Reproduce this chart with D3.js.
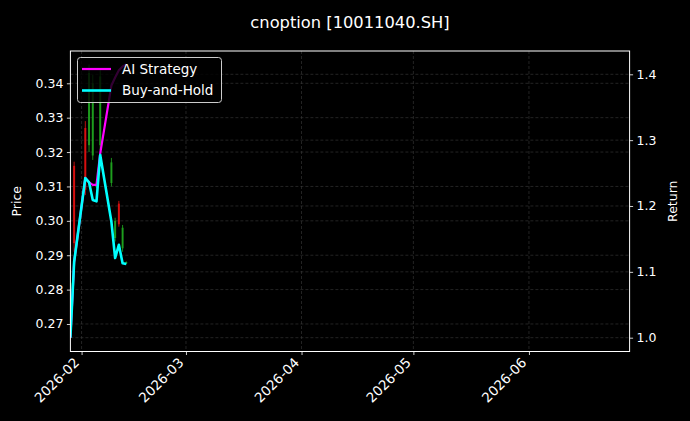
<!DOCTYPE html>
<html><head><meta charset="utf-8">
<script src="https://cdn.jsdelivr.net/npm/d3@7"></script>
<style>html,body{margin:0;padding:0;background:#000;}svg{display:block;font-family:"DejaVu Sans",sans-serif;}</style>
</head><body>
<svg id="c" width="690" height="421"></svg>
<script>
const title = "cnoption [10011040.SH]";
const dates = ["2026-01-29","2026-01-30","2026-02-02","2026-02-03","2026-02-04","2026-02-05","2026-02-06","2026-02-09","2026-02-10","2026-02-11","2026-02-12","2026-02-13"];
const opens  = [0.267, 0.316, 0.327, 0.322, 0.319, 0.3098, 0.322, 0.311, 0.295, 0.305, 0.292, 0.2876];
const highs  = [0.285, 0.3172, 0.329, 0.3455, 0.3424, 0.3105, 0.344, 0.3183, 0.3009, 0.3058, 0.2988, 0.2882];
const lows   = [0.266, 0.291, 0.3075, 0.320, 0.3177, 0.3095, 0.3206, 0.310, 0.294, 0.2983, 0.291, 0.2875];
const closes = [0.282, 0.2935, 0.309, 0.343, 0.340, 0.3102, 0.342, 0.317, 0.300, 0.299, 0.298, 0.2880];
const aiReturn = [1.0, 1.115, 1.2425, 1.236, 1.232, 1.232, 1.280, 1.383, 1.395, 1.406, 1.412, 1.415];
const bhReturn = [1.0, 1.115, 1.2425, 1.236, 1.209, 1.207, 1.2775, 1.176, 1.121, 1.141, 1.113, 1.112];
const priceTicks = [0.27, 0.28, 0.29, 0.30, 0.31, 0.32, 0.33, 0.34];
const returnTicks = [1.0, 1.1, 1.2, 1.3, 1.4];
const monthTicks = ["2026-02-01","2026-03-01","2026-04-01","2026-05-01","2026-06-01"];
const xRange = ["2026-01-29","2026-06-28"];
const seriesNames = ["AI Strategy", "Buy-and-Hold"];

const parse = d3.utcParse("%Y-%m-%d");
const L = 70.4, R = 629.6, T = 51, B = 351.5;
const svg = d3.select("#c");
svg.append("rect").attr("width",690).attr("height",421).attr("fill","#000");

const x = d3.scaleUtc().domain(xRange.map(parse)).range([L, R]);
const yP = d3.scaleLinear().domain([0.26200, 0.34939]).range([B, T]);
const yR = d3.scaleLinear().domain([0.97904, 1.43538]).range([B, T]);

const data = dates.map((d,i)=>({d:parse(d),o:opens[i],h:highs[i],l:lows[i],c:closes[i],ai:aiReturn[i],bh:bhReturn[i]}));

svg.append("defs").append("clipPath").attr("id","clip").append("rect")
  .attr("x",L).attr("y",T).attr("width",R-L).attr("height",B-T);

// grid
const grid = svg.append("g").attr("stroke","#555").attr("stroke-width",0.6).attr("stroke-dasharray","3,2").attr("opacity",0.7);
priceTicks.forEach(v=>grid.append("line").attr("x1",L).attr("x2",R).attr("y1",yP(v)).attr("y2",yP(v)));
returnTicks.forEach(v=>grid.append("line").attr("x1",L).attr("x2",R).attr("y1",yR(v)).attr("y2",yR(v)));
monthTicks.forEach(v=>grid.append("line").attr("y1",T).attr("y2",B).attr("x1",x(parse(v))).attr("x2",x(parse(v))));

const plot = svg.append("g").attr("clip-path","url(#clip)");
// candles
const cg = plot.append("g");
data.forEach(d=>{
  const col = d.c >= d.o ? "#1fa31f" : "#e01010";
  cg.append("line").attr("x1",x(d.d)).attr("x2",x(d.d)).attr("y1",yP(d.h)).attr("y2",yP(d.l))
    .attr("stroke",col).attr("stroke-width",1).attr("opacity",0.85);
  cg.append("line").attr("x1",x(d.d)).attr("x2",x(d.d)).attr("y1",yP(Math.max(d.o,d.c))).attr("y2",yP(Math.min(d.o,d.c)))
    .attr("stroke",col).attr("stroke-width",2).attr("opacity",0.9);
});
// lines
const lineAI = d3.line().x(d=>x(d.d)).y(d=>yR(d.ai));
const lineBH = d3.line().x(d=>x(d.d)).y(d=>yR(d.bh));
plot.append("path").datum(data).attr("d",lineAI).attr("fill","none").attr("stroke","#ff00ff").attr("stroke-width",2.2).attr("stroke-linejoin","round");
plot.append("path").datum(data).attr("d",lineBH).attr("fill","none").attr("stroke","#00ffff").attr("stroke-width",2.6).attr("stroke-linejoin","round");

// axes
const axL = d3.axisLeft(yP).tickValues(priceTicks).tickFormat(d3.format(".2f")).tickSize(3.5).tickPadding(3.5);
const axR = d3.axisRight(yR).tickValues(returnTicks).tickFormat(d3.format(".1f")).tickSize(3.5).tickPadding(3.5);
const axB = d3.axisBottom(x).tickValues(monthTicks.map(parse)).tickFormat(d3.utcFormat("%Y-%m")).tickSize(3.5).tickPadding(3.5);
function style(g){
  g.select(".domain").remove();
  g.selectAll(".tick line").attr("stroke","#fff").attr("stroke-width",0.8);
  g.selectAll(".tick text").attr("fill","#fff").style("font-size","12.5px").style("font-family","DejaVu Sans");
}
svg.append("g").attr("transform",`translate(${L},0)`).call(axL).call(style);
svg.append("g").attr("transform",`translate(${R},0)`).call(axR).call(style);
const gb = svg.append("g").attr("transform",`translate(0,${B})`).call(axB).call(style);
gb.selectAll(".tick text").style("font-size","13.5px").attr("text-anchor","end").attr("dy",null).attr("y",0)
  .attr("transform","translate(-2,12) rotate(-45)");

// spines
svg.append("rect").attr("x",L).attr("y",T).attr("width",R-L).attr("height",B-T).attr("fill","none").attr("stroke","#fff").attr("stroke-width",1);

// labels
svg.append("text").attr("x",(L+R)/2).attr("y",28).attr("text-anchor","middle").attr("fill","#fff").style("font-size","16.3px").text(title);
svg.append("text").attr("transform",`translate(21,${(T+B)/2}) rotate(-90)`).attr("text-anchor","middle").attr("fill","#fff").style("font-size","12.5px").text("Price");
svg.append("text").attr("transform",`translate(677,${(T+B)/2}) rotate(-90)`).attr("text-anchor","middle").attr("fill","#fff").style("font-size","12.5px").text("Return");

// legend
const lg = svg.append("g");
lg.append("rect").attr("x",77.5).attr("y",57.5).attr("width",144).attr("height",45).attr("rx",3)
  .attr("fill","#000").attr("fill-opacity",0.8).attr("stroke","#ccc").attr("stroke-width",1);
const lcol = ["#ff00ff","#00ffff"];
seriesNames.forEach((n,i)=>{
  const yy = 69 + i*21.5;
  lg.append("line").attr("x1",82).attr("x2",111).attr("y1",yy).attr("y2",yy).attr("stroke",lcol[i]).attr("stroke-width",i?2.6:2.2);
  lg.append("text").attr("x",122).attr("y",yy+4.8).attr("fill","#fff").style("font-size","13.5px").text(n);
});
</script>
</body></html>
